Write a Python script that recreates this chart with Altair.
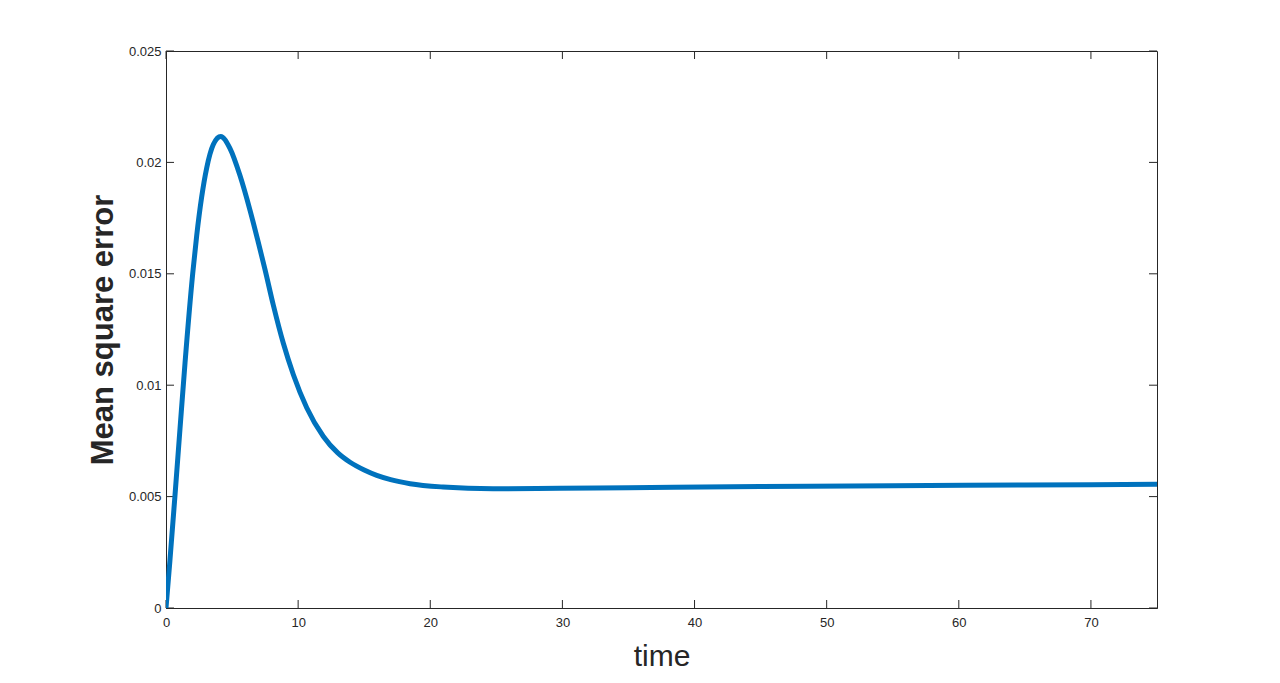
import altair as alt
import pandas as pd

# data
t_vals = [0, 0.3, 0.68, 1.06, 1.44, 2.02, 2.32, 2.70, 3.08, 3.58, 4.14, 4.84, 5.60,
          6.36, 6.99, 7.49, 8.12, 8.88, 9.64, 10.65, 11.91, 13.0, 13.93, 15.0, 15.95,
          17.0, 18.47, 20.97, 24.75, 29.8, 35, 45, 55, 65, 75]
mse_vals = [0, 0.00215, 0.00505, 0.00805, 0.0110, 0.0150, 0.0167, 0.01845, 0.01975,
            0.0208, 0.02116, 0.02063, 0.01941, 0.01785, 0.0164, 0.0152, 0.0136,
            0.01188, 0.01047, 0.00899, 0.0077, 0.00696, 0.00654, 0.00619, 0.00595,
            0.00576, 0.00558, 0.00543, 0.00535, 0.00537, 0.0054, 0.00545, 0.00549,
            0.00552, 0.00555]
x_ticks = [0, 10, 20, 30, 40, 50, 60, 70]
y_ticks = [0, 0.005, 0.01, 0.015, 0.02, 0.025]

W, H = 991, 557
AX = "#262626"
FONT = "Liberation Sans"

df = pd.DataFrame({"t": t_vals, "mse": mse_vals})
xt = pd.DataFrame({"x": x_ticks})
yt = pd.DataFrame({"y": y_ticks})

xscale = alt.Scale(domain=[0, 75], nice=False, zero=False)
yscale = alt.Scale(domain=[0, 0.025], nice=False, zero=False)

line = alt.Chart(df).mark_line(color="#0072BD", strokeWidth=5, interpolate="monotone",
                               clip=True, strokeCap="round").encode(
    x=alt.X("t:Q", scale=xscale,
            axis=alt.Axis(values=x_ticks, title="time", grid=False, ticks=False,
                          domain=True, domainColor=AX, labelColor=AX, labelFont=FONT,
                          labelFontSize=13, labelPadding=8, format="~g",
                          labelFlush=False,
                          titleFont=FONT, titleFontSize=30, titleFontWeight="normal",
                          titleColor=AX, titleX=W / 2, titleY=57,
                          titleBaseline="alphabetic", titleAlign="center")),
    y=alt.Y("mse:Q", scale=yscale,
            axis=alt.Axis(values=y_ticks, title="Mean square error", grid=False,
                          ticks=False, domain=True, domainColor=AX, labelColor=AX,
                          labelFont=FONT, labelFontSize=13, labelPadding=5,
                          labelFlush=False,
                          format="~g", titleFont=FONT, titleFontSize=31,
                          titleFontWeight="bold", titleColor=AX, titleAngle=-90,
                          titleX=-54, titleY=H / 2, titleBaseline="alphabetic",
                          titleAlign="center")),
)

tick_len = 8
bottom_ticks = alt.Chart(xt).mark_rule(color=AX, strokeWidth=1).encode(
    x=alt.X("x:Q", scale=xscale), y=alt.value(H), y2=alt.value(H - tick_len))
top_ticks = alt.Chart(xt).mark_rule(color=AX, strokeWidth=1).encode(
    x=alt.X("x:Q", scale=xscale), y=alt.value(0), y2=alt.value(tick_len))
left_ticks = alt.Chart(yt).mark_rule(color=AX, strokeWidth=1).encode(
    y=alt.Y("y:Q", scale=yscale), x=alt.value(0), x2=alt.value(tick_len))
right_ticks = alt.Chart(yt).mark_rule(color=AX, strokeWidth=1).encode(
    y=alt.Y("y:Q", scale=yscale), x=alt.value(W), x2=alt.value(W - tick_len))

chart = alt.layer(bottom_ticks, top_ticks, left_ticks, right_ticks, line).properties(
    width=W, height=H,
    autosize=alt.AutoSizeParams(type="none"),
    padding={"left": 158, "top": 43, "right": 100, "bottom": 74},
    background="white",
).configure_view(stroke=AX, strokeWidth=1)

chart.save("out.html", embed_options={"renderer": "svg", "actions": False})
